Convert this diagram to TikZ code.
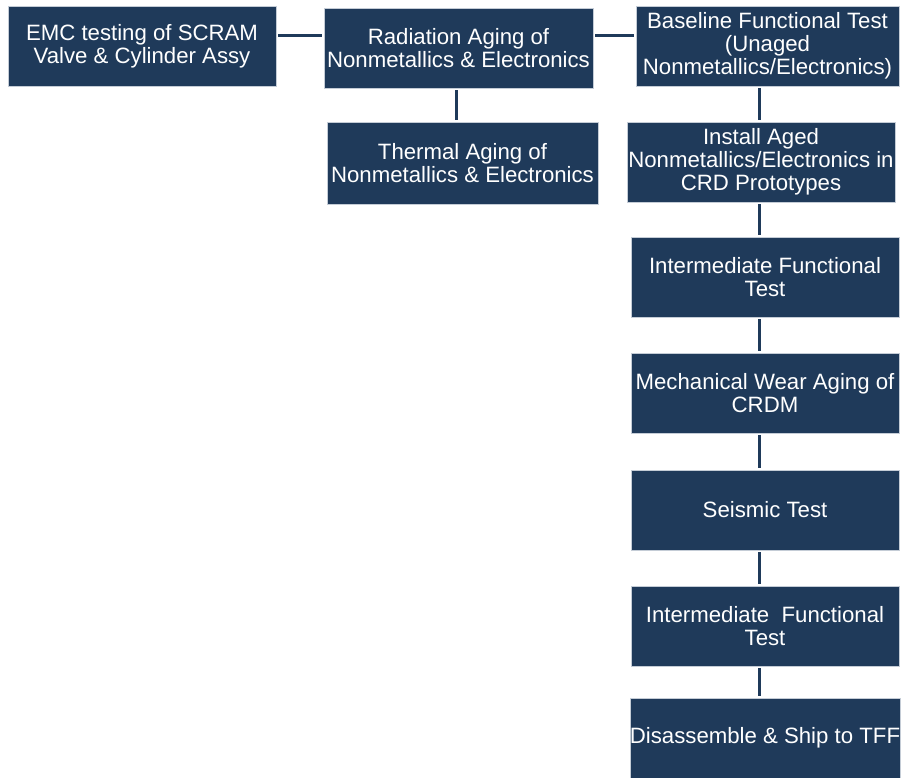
\documentclass[tikz,border=0pt]{standalone}
\usepackage{fontspec}
\setmainfont{Liberation Sans}
\definecolor{boxnavy}{RGB}{31,58,90}
\definecolor{boxedge}{RGB}{196,204,214}
\tikzset{
  blockbox/.style={rectangle,fill=boxnavy,draw=boxedge,line width=.8pt,
    text=white,align=center,inner sep=0pt,minimum width=268pt,minimum height=80pt,
    font=\fontsize{22.2}{23.2}\selectfont},
  link/.style={draw=boxnavy,line width=3pt,shorten <=2pt,shorten >=2pt}
}
\begin{document}
\begin{tikzpicture}[x=1pt,y=-1pt]
\useasboundingbox (0,0) rectangle (902,777);

\node[blockbox] (emc) at (142,46) {EMC testing of SCRAM\\Valve \& Cylinder Assy};
\node[blockbox,minimum width=269pt] (rad) at (458.5,48) {Radiation Aging of\\Nonmetallics \& Electronics};
\node[blockbox,minimum width=263pt] (base) at (767.5,46) {Baseline Functional Test\\(Unaged\\Nonmetallics/Electronics)};
\node[blockbox,minimum width=271pt,minimum height=82pt] (therm) at (462.5,163) {Thermal Aging of\\Nonmetallics \& Electronics};

\node[blockbox] (inst) at (761,162) {Install Aged\\Nonmetallics/Electronics in\\CRD Prototypes};
\node[blockbox] (intA) at (765,277) {Intermediate Functional\\Test};
\node[blockbox] (mech) at (765,393) {Mechanical Wear Aging of\\CRDM};
\node[blockbox] (seis) at (765,510) {Seismic Test};
\node[blockbox] (intB) at (765,626) {Intermediate\ \ Functional\\Test};
\node[blockbox] (ship) at (765,738) {Disassemble \& Ship to TFF};

\coordinate (spine) at (759,0);

% top row
\draw[link] ([yshift=11pt]emc.east) -- ([yshift=11pt]emc.east -| rad.west);
\draw[link] ([yshift=13pt]rad.east) -- ([yshift=13pt]rad.east -| base.west);
\draw[link] ([xshift=-2.5pt]rad.south) -- ([xshift=-2.5pt]rad.south |- therm.north);

% test sequence
\draw[link] (base.south -| spine) -- (inst.north -| spine);
\draw[link] (inst.south -| spine) -- (intA.north -| spine);
\draw[link] (intA.south -| spine) -- (mech.north -| spine);
\draw[link] (mech.south -| spine) -- (seis.north -| spine);
\draw[link] (seis.south -| spine) -- (intB.north -| spine);
\draw[link] (intB.south -| spine) -- (ship.north -| spine);
\end{tikzpicture}
\end{document}
